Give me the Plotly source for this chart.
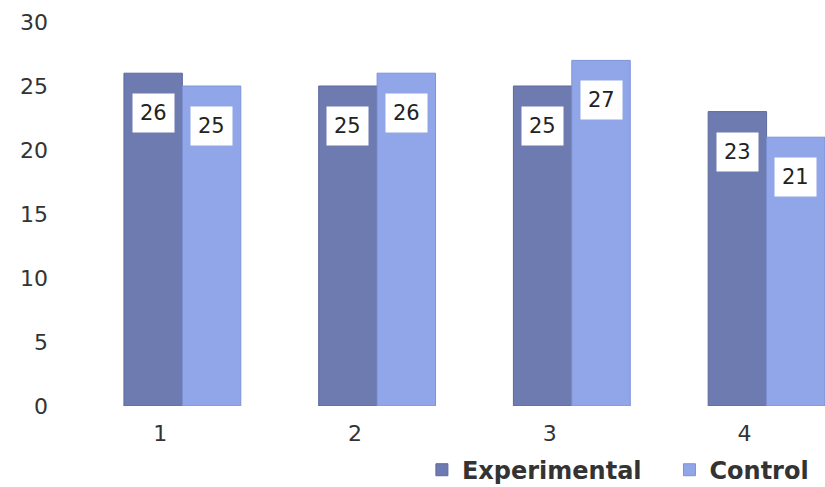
import plotly.graph_objects as go

categories = [1, 2, 3, 4]
experimental = [26, 25, 25, 23]
control = [25, 26, 27, 21]
y_ticks = [0, 5, 10, 15, 20, 25, 30]

exp_color = "#6E7BB0"
ctrl_color = "#90A6E8"
bar_w = 0.3

fig = go.Figure()
fig.add_trace(go.Bar(x=categories, y=experimental, name="<b>Experimental</b>   ",
                     marker=dict(color=exp_color, line=dict(color="#5E6A9E", width=1)),
                     width=bar_w, offset=-bar_w))
fig.add_trace(go.Bar(x=categories, y=control, name="<b>Control</b>",
                     marker=dict(color=ctrl_color, line=dict(color="#7D93D6", width=1)),
                     width=bar_w, offset=0))

for series, off in ((experimental, -bar_w / 2), (control, bar_w / 2)):
    for c, v in zip(categories, series):
        fig.add_annotation(x=c + off, y=v, text=str(v), showarrow=False,
                           yshift=-40, bgcolor="white", borderpad=7,
                           font=dict(size=21, color="#222222", family="DejaVu Sans"))

fig.update_layout(
    width=825, height=487,
    margin=dict(l=85, r=0, t=22, b=81, autoexpand=False),
    paper_bgcolor="white", plot_bgcolor="white",
    font=dict(family="DejaVu Sans", size=22, color="#333333"),
    showlegend=True,
    legend=dict(orientation="h", x=0.985, xanchor="right", y=-0.167, yanchor="middle",
                font=dict(size=24, color="#333333", family="DejaVu Sans"),
                itemwidth=30, traceorder="normal"),
)
fig.update_xaxes(range=[0.5, 4.3], tickvals=categories, ticktext=[str(c) for c in categories],
                 showgrid=False, zeroline=False, showline=False,
                 ticklabelstandoff=12, ticklabelshift=-22)
fig.update_yaxes(range=[0, 30], tickvals=y_ticks, showgrid=False, zeroline=False,
                 showline=False, ticklabelstandoff=36)

fig.write_html("out.html")
